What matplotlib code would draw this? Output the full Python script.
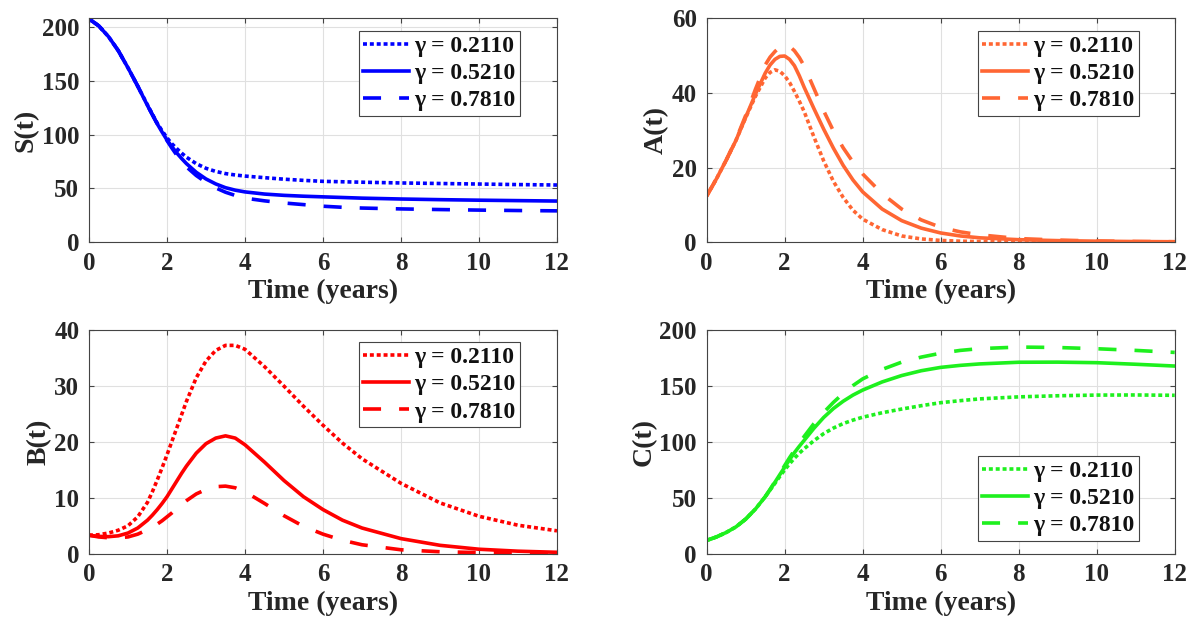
import matplotlib
matplotlib.use("Agg")
import matplotlib.pyplot as plt

# ---------------- data ----------------
t = [0, 0.25, 0.5, 0.75, 1.0, 1.25, 1.5, 1.625, 1.75, 1.875, 2.0, 2.125, 2.25, 2.375,
     2.5, 2.75, 3.0, 3.25, 3.5, 3.75, 4.0, 4.5, 5.0, 5.5, 6.0, 6.5, 7.0, 8.0, 9.0,
     10.0, 11.0, 12.0]

gamma_labels = ["γ = 0.2110", "γ = 0.5210", "γ = 0.7810"]

S_g1 = [207.5, 201, 191, 178, 162, 145, 127.5, 119, 110.5, 103.5, 97, 91.5, 87, 82.8,
        79, 73, 68.7, 65.8, 63.8, 62.5, 61.5, 60.0, 58.6, 57.5, 56.6, 56.2, 55.8, 55.1,
        54.6, 54.1, 53.6, 53.2]
S_g2 = [207.5, 201, 191, 178, 162, 145, 127, 118.5, 110, 102.3, 95, 88.8, 83, 77.8,
        73, 65, 58.8, 54.2, 50.7, 48.4, 46.8, 44.8, 43.6, 42.8, 42.2, 41.6, 41.0, 40.2,
        39.6, 39.1, 38.7, 38.3]
S_g3 = [207.5, 201, 191, 178, 162, 145, 127, 118.5, 110, 102, 94.5, 87.5, 81, 75.2,
        70, 62, 55.7, 50.5, 46.5, 43.5, 41.0, 38.5, 36.5, 35.0, 33.5, 32.5, 31.8, 31.0,
        30.4, 29.9, 29.5, 29.2]

A_g1 = [12.4, 17, 22, 27.3, 33.4, 39.1, 44.0, 45.5, 46.2, 45.8, 44.6, 42.8, 40.4, 37.8,
        35.0, 28.2, 21.8, 16.3, 12.0, 8.6, 6.2, 3.4, 1.7, 0.9, 0.5, 0.3, 0.2, 0.1,
        0.05, 0.03, 0.02, 0.01]
A_g2 = [12.4, 17, 22, 27.3, 33.5, 39.7, 45.3, 47.5, 49.0, 49.8, 49.9, 49.0, 47.3, 44.6,
        41.5, 35.8, 30.3, 25.2, 20.6, 16.7, 13.5, 8.9, 5.8, 3.8, 2.5, 1.7, 1.2, 0.7,
        0.45, 0.3, 0.2, 0.15]
A_g3 = [12.4, 17, 22, 27.5, 34, 41, 47.5, 49.6, 51.1, 52.3, 52.8, 52.5, 51.3, 49.5,
        47.2, 41.2, 35.2, 29.8, 25.3, 21.5, 18.3, 13.0, 8.9, 6.0, 4.0, 2.8, 2.0, 1.0,
        0.6, 0.35, 0.22, 0.15]

B_g1 = [3.3, 3.4, 3.7, 4.2, 5.0, 6.6, 9.2, 11.1, 13.2, 15.4, 17.7, 20.1, 22.5, 24.9,
        27.3, 31.5, 34.5, 36.4, 37.3, 37.3, 36.6, 33.5, 30.0, 26.4, 23.0, 19.8, 17.0, 12.6,
        9.1, 6.7, 5.1, 4.1]
B_g2 = [3.3, 3.1, 3.05, 3.2, 3.7, 4.6, 6.0, 6.9, 7.9, 9.0, 10.2, 11.6, 13.0, 14.4,
        15.7, 18.0, 19.7, 20.7, 21.1, 20.7, 19.5, 16.4, 13.1, 10.2, 7.9, 6.0, 4.6, 2.7,
        1.5, 0.8, 0.45, 0.25]
B_g3 = [3.3, 3.0, 2.85, 2.85, 3.0, 3.5, 4.3, 4.8, 5.3, 5.9, 6.6, 7.3, 8.1, 8.8,
        9.5, 10.7, 11.5, 12.0, 12.1, 11.8, 11.1, 9.0, 6.8, 4.9, 3.5, 2.4, 1.6, 0.7,
        0.35, 0.2, 0.1, 0.06]

C_g1 = [11.9, 15, 19, 24, 31, 40, 51, 57, 63, 69.2, 75, 80.5, 85.5, 90,
        94, 101.2, 107.5, 112.5, 116.5, 119.6, 122.2, 126.2, 129.5, 132.5, 135.2, 137, 138.6, 140.4,
        141.4, 142, 142.1, 141.8]
C_g2 = [11.9, 15, 19, 24, 31, 40, 51, 57.3, 64, 70.8, 77.5, 84.2, 90.5, 96.2,
        101.5, 112.3, 122, 130, 136.5, 142, 146.5, 153.8, 159.5, 163.8, 166.8, 168.6, 169.9, 171.4,
        171.5, 171, 169.6, 168]
C_g3 = [11.9, 15, 19, 24, 31, 40, 51, 57.6, 64.5, 71.7, 79, 86, 92.5, 98.9,
        105, 116.5, 126.5, 135.5, 143.5, 150.5, 156.5, 165, 171.5, 176, 179.5, 182, 183.6, 185,
        184.6, 183.5, 182, 180.2]

xlabel = "Time (years)"
ylabels = ["S(t)", "A(t)", "B(t)", "C(t)"]
ylims = [208, 60, 40, 200]
ysteps = [50, 20, 10, 50]
xticks = [0, 2, 4, 6, 8, 10, 12]

# ---------------- style ----------------
plt.rcParams['font.family'] = ['Liberation Serif', 'DejaVu Serif']
plt.rcParams['font.weight'] = 'bold'
plt.rcParams['axes.labelweight'] = 'bold'

colors = ['#0000FF', '#FF6633', '#FF0000', '#1EF01E']
styles = [(0, (1.1, 0.8)), '-', (0, (5, 5))]
series = [[S_g1, S_g2, S_g3], [A_g1, A_g2, A_g3], [B_g1, B_g2, B_g3], [C_g1, C_g2, C_g3]]

fig = plt.figure(figsize=(11.96, 6.28), dpi=100)
W, H = 1196, 628
boxes = [(89, 18.3, 468, 224), (706.7, 18.3, 468, 224),
         (89, 330.3, 468, 223.4), (706.7, 330.3, 468, 223.4)]
leg_loc = ['upper right', 'upper right', 'upper right', 'lower right']
leg_anchor = [(0.921, 0.945), (0.924, 0.945), (0.921, 0.948), (0.924, 0.057)]

axc = '#262626'
for i, (x, y, w, h) in enumerate(boxes):
    ax = fig.add_axes([x / W, 1 - (y + h) / H, w / W, h / H])
    for j in range(3):
        ax.plot(t, series[i][j], color=colors[i], linestyle=styles[j], lw=2.6,
                dash_capstyle='butt', solid_joinstyle='round', label=gamma_labels[j])
    ax.set_xlim(0, 12)
    ax.set_ylim(0, ylims[i])
    ax.set_xticks(xticks)
    ax.set_yticks(list(range(0, ylims[i] + 1, ysteps[i])))
    ax.grid(True, color='#e0e0e0', lw=0.8)
    ax.set_axisbelow(True)
    for s in ax.spines.values():
        s.set_color('#444444')
        s.set_linewidth(0.8)
    ax.tick_params(direction='in', top=True, right=True, length=3.5, width=0.8,
                   colors='#444444', labelcolor=axc, labelsize=18, pad=7)
    for lab in ax.get_xticklabels() + ax.get_yticklabels():
        lab.set_fontweight('bold')
    ax.set_xlabel(xlabel, fontsize=20, fontweight='bold', color=axc, labelpad=3)
    ax.set_ylabel(ylabels[i], fontsize=20, fontweight='bold', color=axc, labelpad=2)
    leg = ax.legend(loc=leg_loc[i], bbox_to_anchor=leg_anchor[i], fontsize=17,
                    frameon=True, fancybox=False, framealpha=1, edgecolor='#444444',
                    handlelength=1.95, handletextpad=0.2, labelspacing=0.24,
                    borderpad=0.2, borderaxespad=0)
    leg.get_frame().set_linewidth(0.8)
    for txt in leg.get_texts():
        txt.set_color('#111111')
        txt.set_fontweight('bold')

fig.savefig('out.png', dpi=100)
